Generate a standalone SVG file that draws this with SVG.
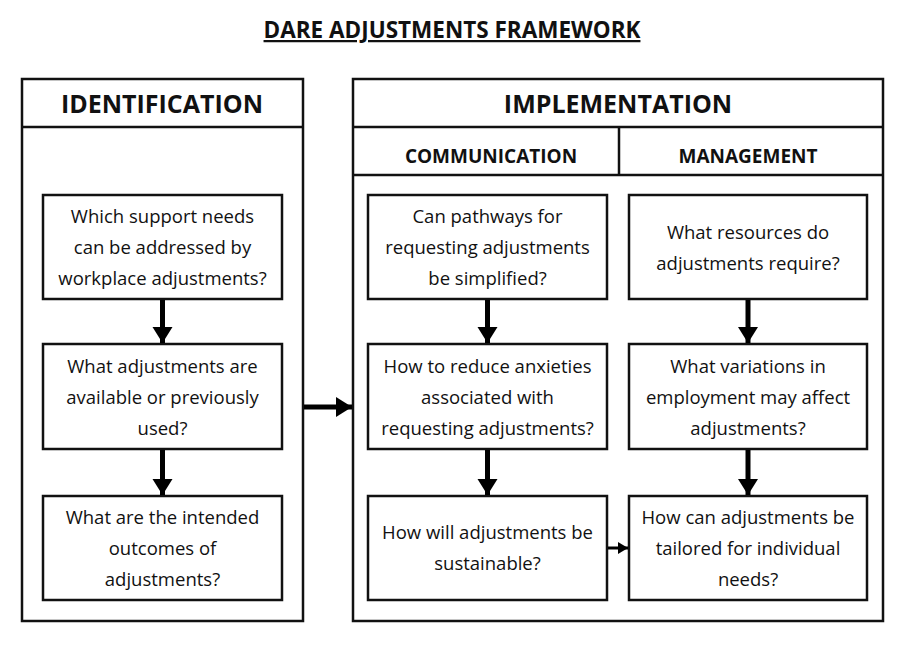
<svg xmlns="http://www.w3.org/2000/svg" width="904" height="654" viewBox="0 0 904 654">
<defs>
<style>
.p{fill:none;stroke:#111;stroke-width:2.5}
.b{fill:#fff;stroke:#111;stroke-width:2.5}
.t{font-family:"Open Sans",sans-serif;font-size:18.5px;fill:#111;text-anchor:middle}
.h{font-family:"Open Sans",sans-serif;font-weight:bold;fill:#111;text-anchor:middle}
</style>
<marker id="ah" markerUnits="userSpaceOnUse" markerWidth="20" markerHeight="22" refX="16" refY="10" orient="auto"><path d="M0,0L16,10L0,20Z" fill="#000"/></marker>
<marker id="as" markerUnits="userSpaceOnUse" markerWidth="14" markerHeight="14" refX="10" refY="6" orient="auto"><path d="M0,0L10,6L0,12Z" fill="#000"/></marker>
</defs>
<rect width="904" height="654" fill="#fff"/>
<text class="h" x="452" y="38" font-size="22.5" text-decoration="underline">DARE ADJUSTMENTS FRAMEWORK</text>
<g id="identification">
<rect class="p" x="22" y="79" width="281" height="542"/>
<line class="p" x1="22" y1="127" x2="303" y2="127"/>
<text class="h" x="162" y="113" font-size="25">IDENTIFICATION</text>
</g>
<g id="implementation">
<rect class="p" x="353" y="79" width="530" height="542"/>
<line class="p" x1="353" y1="127" x2="883" y2="127"/>
<line class="p" x1="353" y1="175" x2="883" y2="175"/>
<line class="p" x1="619" y1="127" x2="619" y2="175"/>
<text class="h" x="618" y="113" font-size="25">IMPLEMENTATION</text>
<text class="h" x="491" y="163" font-size="19">COMMUNICATION</text>
<text class="h" x="748" y="163" font-size="19">MANAGEMENT</text>
</g>
<g id="i1"><rect class="b" x="43" y="195" width="239" height="104"/><text class="t" x="162.5" y="223">Which support needs</text><text class="t" x="162.5" y="254">can be addressed by</text><text class="t" x="162.5" y="285">workplace adjustments?</text></g>
<g id="i2"><rect class="b" x="43" y="344" width="239" height="105"/><text class="t" x="162.5" y="373">What adjustments are</text><text class="t" x="162.5" y="404">available or previously</text><text class="t" x="162.5" y="435">used?</text></g>
<g id="i3"><rect class="b" x="43" y="496" width="239" height="104"/><text class="t" x="162.5" y="524">What are the intended</text><text class="t" x="162.5" y="555">outcomes of</text><text class="t" x="162.5" y="586">adjustments?</text></g>
<g id="c1"><rect class="b" x="368" y="195" width="239" height="104"/><text class="t" x="487.5" y="223">Can pathways for</text><text class="t" x="487.5" y="254">requesting adjustments</text><text class="t" x="487.5" y="285">be simplified?</text></g>
<g id="c2"><rect class="b" x="368" y="344" width="239" height="105"/><text class="t" x="487.5" y="373">How to reduce anxieties</text><text class="t" x="487.5" y="404">associated with</text><text class="t" x="487.5" y="435">requesting adjustments?</text></g>
<g id="c3"><rect class="b" x="368" y="496" width="239" height="104"/><text class="t" x="487.5" y="539">How will adjustments be</text><text class="t" x="487.5" y="570">sustainable?</text></g>
<g id="m1"><rect class="b" x="629" y="195" width="238" height="104"/><text class="t" x="748" y="239">What resources do</text><text class="t" x="748" y="270">adjustments require?</text></g>
<g id="m2"><rect class="b" x="629" y="344" width="238" height="105"/><text class="t" x="748" y="373">What variations in</text><text class="t" x="748" y="404">employment may affect</text><text class="t" x="748" y="435">adjustments?</text></g>
<g id="m3"><rect class="b" x="629" y="496" width="238" height="104"/><text class="t" x="748" y="524">How can adjustments be</text><text class="t" x="748" y="555">tailored for individual</text><text class="t" x="748" y="586">needs?</text></g>
<g id="connectors" stroke="#000" stroke-width="5" fill="none">
<line x1="162.5" y1="300" x2="162.5" y2="343" marker-end="url(#ah)"/>
<line x1="162.5" y1="450" x2="162.5" y2="495" marker-end="url(#ah)"/>
<line x1="487.5" y1="300" x2="487.5" y2="343" marker-end="url(#ah)"/>
<line x1="487.5" y1="450" x2="487.5" y2="495" marker-end="url(#ah)"/>
<line x1="748" y1="300" x2="748" y2="343" marker-end="url(#ah)"/>
<line x1="748" y1="450" x2="748" y2="495" marker-end="url(#ah)"/>
<line x1="304" y1="407" x2="352" y2="407" marker-end="url(#ah)"/>
<line x1="608" y1="548" x2="628" y2="548" stroke-width="3" marker-end="url(#as)"/>
</g>
</svg>
